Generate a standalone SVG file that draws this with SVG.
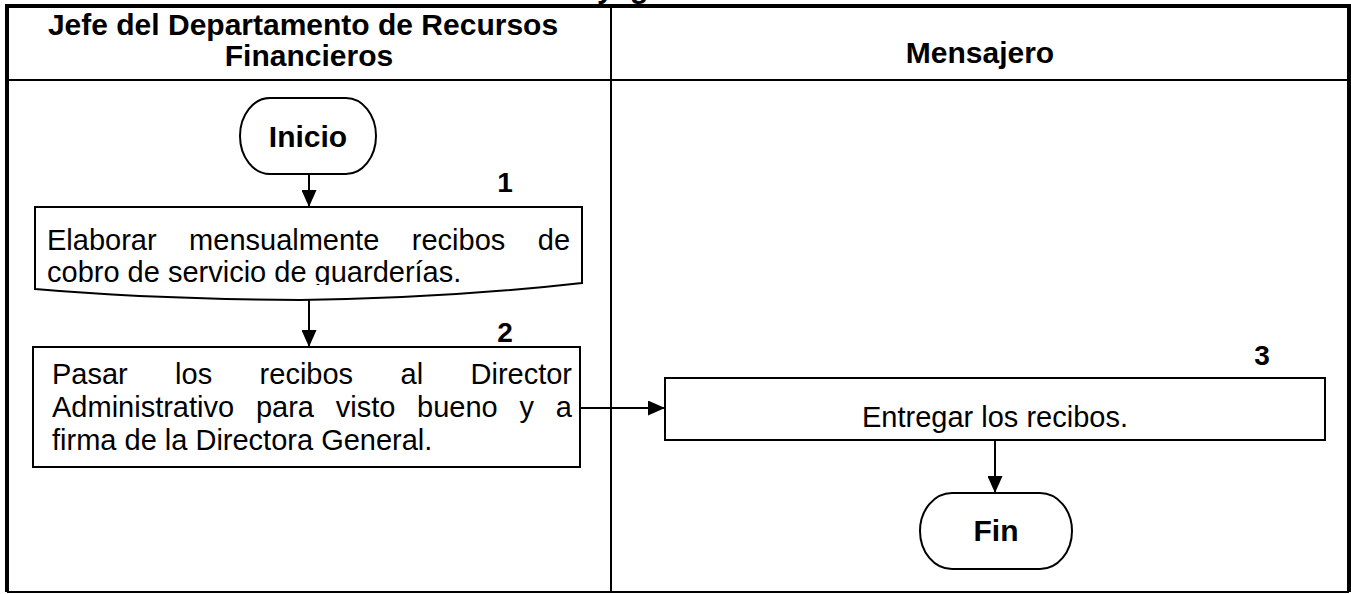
<svg xmlns="http://www.w3.org/2000/svg" width="1351" height="594" viewBox="0 0 1351 594">
<style>
.t{font-family:"Liberation Sans",Arial,sans-serif;font-size:29px;fill:#000}
.b{font-family:"Liberation Sans",Arial,sans-serif;font-size:30px;font-weight:bold;fill:#000}
.n{font-family:"Liberation Sans",Arial,sans-serif;font-size:28px;font-weight:bold;fill:#000}
.shape{fill:#fff;stroke:#000;stroke-width:2}
.conn{stroke:#000;stroke-width:2;fill:none}
</style>
<defs>
<marker id="arr" markerUnits="userSpaceOnUse" markerWidth="17" markerHeight="15" refX="17" refY="7.5" orient="auto" viewBox="0 0 17 15">
<path d="M0,0 L17,7.5 L0,15 Z" fill="#000"/>
</marker>
<clipPath id="docclip"><rect x="36" y="208" width="545" height="77"/></clipPath>
</defs>
<rect width="1351" height="594" fill="#fff"/>
<text class="b" y="-2"><tspan x="597">y</tspan><tspan x="630">g</tspan></text>
<g id="lanes">
<path d="M7,592 V6 H1349 V592" fill="none" stroke="#000" stroke-width="4"/>
<line x1="7" y1="592" x2="1349" y2="592" stroke="#000" stroke-width="2"/>
<line x1="7" y1="80" x2="1349" y2="80" stroke="#000" stroke-width="2"/>
<line x1="611" y1="6" x2="611" y2="592" stroke="#000" stroke-width="2"/>
<text class="b" text-anchor="middle"><tspan x="303" y="35">Jefe del Departamento de Recursos</tspan><tspan x="309" y="66">Financieros</tspan></text>
<text class="b" text-anchor="middle" x="980" y="63">Mensajero</text>
</g>
<g id="connectors">
<line class="conn" x1="309" y1="174" x2="309" y2="207" marker-end="url(#arr)"/>
<line class="conn" x1="309" y1="299" x2="309" y2="347" marker-end="url(#arr)"/>
<line class="conn" x1="580" y1="408" x2="665" y2="408" marker-end="url(#arr)"/>
<line class="conn" x1="995" y1="440" x2="995" y2="493" marker-end="url(#arr)"/>
</g>
<g id="inicio">
<rect class="shape" x="240" y="98" width="136" height="76" rx="30" ry="38"/>
<text class="b" text-anchor="middle" x="308" y="147">Inicio</text>
</g>
<g id="step1">
<path class="shape" d="M35,207 H582 V283 Q450,298 300,300 Q150,299 35,289 Z"/>
<g clip-path="url(#docclip)">
<text class="t" y="250"><tspan x="47">Elaborar</tspan><tspan x="189.1">mensualmente</tspan><tspan x="411.8">recibos</tspan><tspan x="537.8">de</tspan></text>
<text class="t" x="47" y="282">cobro de servicio de guarderías.</text>
</g>
<text class="n" x="505" y="192" text-anchor="middle">1</text>
</g>
<g id="step2">
<rect class="shape" x="33" y="347" width="547" height="120"/>
<text class="t" y="384"><tspan x="52">Pasar</tspan><tspan x="175.1">los</tspan><tspan x="259.6">recibos</tspan><tspan x="400.5">al</tspan><tspan x="470.5">Director</tspan></text>
<text class="t" y="417"><tspan x="52">Administrativo</tspan><tspan x="255.9">para</tspan><tspan x="335.7">visto</tspan><tspan x="417.1">bueno</tspan><tspan x="519.5">y</tspan><tspan x="555.8">a</tspan></text>
<text class="t" x="52" y="450">firma de la Directora General.</text>
<text class="n" x="505" y="342" text-anchor="middle">2</text>
</g>
<g id="step3">
<rect class="shape" x="665" y="378" width="660" height="62"/>
<text class="t" x="995" y="427" text-anchor="middle">Entregar los recibos.</text>
<text class="n" x="1262" y="365" text-anchor="middle">3</text>
</g>
<g id="fin">
<rect class="shape" x="920" y="493" width="152" height="76" rx="32" ry="38"/>
<text class="b" text-anchor="middle" x="996" y="541">Fin</text>
</g>
</svg>
